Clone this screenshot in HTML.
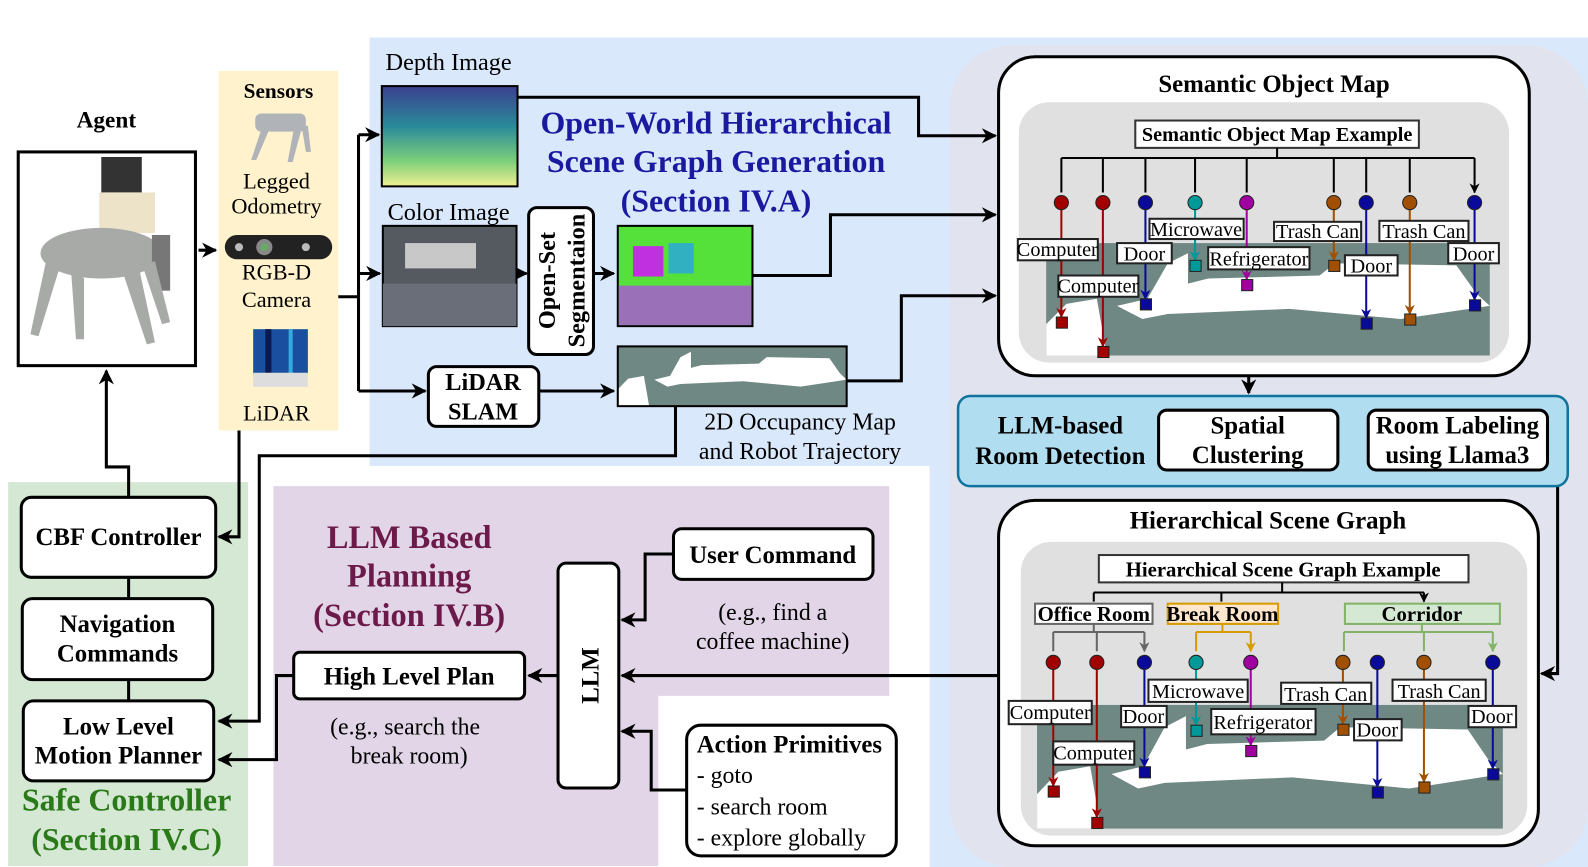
<!DOCTYPE html><html><head><meta charset="utf-8"><style>html,body{margin:0;padding:0;background:#fff}svg{display:block}text{font-family:"Liberation Serif",serif}</style></head><body>
<svg width="1588" height="867" viewBox="0 0 1568 856" preserveAspectRatio="none" xmlns="http://www.w3.org/2000/svg">
<defs>
<marker id="a" viewBox="0 0 10 10" refX="9" refY="5" markerWidth="5" markerHeight="5" orient="auto"><path d="M0,0L10,5L0,10L3,5z" fill="#000"/></marker>
<marker id="ag" viewBox="0 0 10 10" refX="9" refY="5" markerWidth="5" markerHeight="5" orient="auto"><path d="M0,0L10,5L0,10L3,5z" fill="#666"/></marker>
<marker id="ay" viewBox="0 0 10 10" refX="9" refY="5" markerWidth="5" markerHeight="5" orient="auto"><path d="M0,0L10,5L0,10L3,5z" fill="#d79b00"/></marker>
<marker id="agr" viewBox="0 0 10 10" refX="9" refY="5" markerWidth="5" markerHeight="5" orient="auto"><path d="M0,0L10,5L0,10L3,5z" fill="#82b366"/></marker>
<marker id="ar" viewBox="0 0 10 10" refX="9" refY="5" markerWidth="5" markerHeight="5" orient="auto"><path d="M0,0L10,5L0,10L3,5z" fill="#a00000"/></marker>
<marker id="ab" viewBox="0 0 10 10" refX="9" refY="5" markerWidth="5" markerHeight="5" orient="auto"><path d="M0,0L10,5L0,10L3,5z" fill="#0a0a9a"/></marker>
<marker id="at" viewBox="0 0 10 10" refX="9" refY="5" markerWidth="5" markerHeight="5" orient="auto"><path d="M0,0L10,5L0,10L3,5z" fill="#009999"/></marker>
<marker id="am" viewBox="0 0 10 10" refX="9" refY="5" markerWidth="5" markerHeight="5" orient="auto"><path d="M0,0L10,5L0,10L3,5z" fill="#a000a0"/></marker>
<marker id="ao" viewBox="0 0 10 10" refX="9" refY="5" markerWidth="5" markerHeight="5" orient="auto"><path d="M0,0L10,5L0,10L3,5z" fill="#a05000"/></marker>
<linearGradient id="dg" x1="0" y1="0" x2="0" y2="1"><stop offset="0" stop-color="#3b3f8f"/><stop offset="0.4" stop-color="#2a8a9a"/><stop offset="0.75" stop-color="#7dd07a"/><stop offset="1" stop-color="#f0f090"/></linearGradient>
<g id="map1">
<rect x="0" y="0" width="438" height="111" fill="#6f8884"/>
<path d="M70,62 L100,55 L120,20 L140,10 L140,40 L160,35 L270,32 L285,20 L405,22 L425,50 L438,62 L350,75 L240,65 L120,70 L95,75 Z" fill="#fff"/>
<path d="M0,80 L20,60 L50,55 L60,111 L0,111 Z" fill="#fff"/>
</g>
</defs>

<path d="M365,37 H1568 V856 H918 V460 H365 Z" fill="#dae8fc"/>
<rect x="938" y="45" width="630" height="811" rx="60" fill="#e1e3ef"/>
<rect x="216" y="70" width="118" height="355" fill="#fff2cc"/>
<rect x="8" y="476" width="237" height="379" fill="#d5e8d4"/>
<path d="M270,480 H878 V687 H650 V855 H270 Z" fill="#e1d5e7"/>

<text x="105" y="126" font-size="23" font-weight="bold" text-anchor="middle">Agent</text>
<rect x="18" y="150" width="175" height="211" fill="#fff" stroke="#000" stroke-width="3"/>
<g fill="#a8aaa8">
<rect x="100" y="155" width="40" height="35" fill="#333"/>
<rect x="98" y="190" width="55" height="40" fill="#ede3c8"/>
<ellipse cx="100" cy="250" rx="60" ry="25"/>
<rect x="150" y="232" width="18" height="55" fill="#777"/>
<path d="M45,260 l-15,70 l8,2 l20,-65z M70,265 l5,70 l8,0 l0,-60z M120,265 l25,75 l8,-2 l-15,-70z M140,260 l20,60 l8,-2 l-15,-60z"/>
</g>
<text x="275" y="97" font-size="21" font-weight="bold" text-anchor="middle">Sensors</text>
<g fill="#b0b4b8"><rect x="252" y="112" width="50" height="18" rx="6"/><path d="M258,128 l-10,30 h5 l12,-28z M290,128 l-6,32 h5 l8,-30z M298,125 l4,25 h5 l-3,-26z"/></g>
<text x="273" y="186" font-size="22" text-anchor="middle">Legged</text>
<text x="273" y="211" font-size="22" text-anchor="middle">Odometry</text>
<rect x="222" y="232" width="106" height="24" rx="12" fill="#222"/>
<circle cx="261" cy="244" r="8" fill="#888"/><circle cx="261" cy="244" r="4" fill="#6a6"/>
<circle cx="236" cy="244" r="4" fill="#bbb"/><circle cx="302" cy="244" r="4" fill="#bbb"/>
<text x="273" y="276" font-size="22" text-anchor="middle">RGB-D</text>
<text x="273" y="303" font-size="22" text-anchor="middle">Camera</text>
<rect x="250" y="325" width="54" height="45" fill="#1a4fa0"/>
<rect x="262" y="325" width="6" height="45" fill="#0a1a50"/><rect x="285" y="325" width="4" height="45" fill="#3ad"/>
<rect x="250" y="368" width="54" height="14" fill="#ddd"/>
<text x="273" y="415" font-size="22" text-anchor="middle">LiDAR</text>

<g stroke="#000" stroke-width="3" fill="none">
<path d="M196,247 H213" marker-end="url(#a)"/>
<path d="M334,293 H354"/>
<path d="M354,133 V386"/>
<path d="M354,133 H374" marker-end="url(#a)"/>
<path d="M354,270 H375" marker-end="url(#a)"/>
<path d="M354,386 H420" marker-end="url(#a)"/>
<path d="M236,425 V530 H216" marker-end="url(#a)"/>
<path d="M511,96 H907 V134 H983" marker-end="url(#a)"/>
<path d="M510,270 H520" marker-end="url(#a)"/>
<path d="M586,270 H606" marker-end="url(#a)"/>
<path d="M743,272 H820 V212 H983" marker-end="url(#a)"/>
<path d="M532,386 H606" marker-end="url(#a)"/>
<path d="M836,376 H890 V292 H983" marker-end="url(#a)"/>
<path d="M667,401 V450 H256 V712 H216" marker-end="url(#a)"/>
<path d="M127,491 V461 H105 V366" marker-end="url(#a)"/>
<path d="M127,570 V591 M127,671 V692"/>
<path d="M290,667 H273 V750 H216" marker-end="url(#a)"/>
<path d="M551,667 H522" marker-end="url(#a)"/>
<path d="M665,547 H637 V612 H614" marker-end="url(#a)"/>
<path d="M678,780 H643 V722 H614" marker-end="url(#a)"/>
<path d="M986,667 H614" marker-end="url(#a)"/>
<path d="M1233,371 V388" marker-end="url(#a)"/>
<path d="M1321,434 H1351"/>
<path d="M1528,434 H1538 V665 H1522" marker-end="url(#a)"/>
</g>

<text x="443" y="69" font-size="24" text-anchor="middle">Depth Image</text>
<rect x="377" y="85" width="134" height="99" fill="url(#dg)" stroke="#000" stroke-width="2"/>
<text x="443" y="217" font-size="24" text-anchor="middle">Color Image</text>
<rect x="378" y="223" width="132" height="99" fill="#555a60" stroke="#000" stroke-width="2"/>
<rect x="378" y="280" width="132" height="42" fill="#6a6e78"/>
<rect x="400" y="240" width="70" height="25" fill="#c8c8c8"/>
<rect x="522" y="205" width="64" height="145" rx="8" fill="#fff" stroke="#000" stroke-width="3"/>
<text transform="translate(548,277) rotate(-90)" font-size="24" font-weight="bold" text-anchor="middle">Open-Set</text>
<text transform="translate(577,277) rotate(-90)" font-size="24" font-weight="bold" text-anchor="middle">Segmentaion</text>
<rect x="610" y="223" width="133" height="99" fill="#55e03a" stroke="#000" stroke-width="2"/>
<rect x="611" y="282" width="131" height="39" fill="#9a70b8"/>
<rect x="625" y="243" width="30" height="30" fill="#c030e0"/><rect x="660" y="240" width="25" height="30" fill="#30b0c0"/>
<rect x="423" y="362" width="109" height="59" rx="8" fill="#fff" stroke="#000" stroke-width="3"/>
<text x="477" y="385" font-size="24" font-weight="bold" text-anchor="middle">LiDAR</text>
<text x="477" y="414" font-size="24" font-weight="bold" text-anchor="middle">SLAM</text>
<g transform="translate(610,342) scale(0.516,0.53)"><use href="#map1"/></g>
<rect x="610" y="342" width="226" height="59" fill="none" stroke="#000" stroke-width="2"/>
<text x="790" y="424" font-size="23.5" text-anchor="middle">2D Occupancy Map</text>
<text x="790" y="453" font-size="23.5" text-anchor="middle">and Robot Trajectory</text>
<g font-size="31.5" font-weight="bold" fill="#1a1aa0" text-anchor="middle">
<text x="707" y="132">Open-World Hierarchical</text>
<text x="707" y="170">Scene Graph Generation</text>
<text x="707" y="209">(Section IV.A)</text>
</g>

<g stroke="#000" stroke-width="3" fill="#fff">
<rect x="21" y="491" width="192" height="79" rx="10"/>
<rect x="22" y="591" width="188" height="80" rx="10"/>
<rect x="23" y="692" width="188" height="79" rx="10"/>
</g>
<g font-size="24.5" font-weight="bold" text-anchor="middle">
<text x="117" y="538">CBF Controller</text>
<text x="116" y="624">Navigation</text><text x="116" y="653">Commands</text>
<text x="117" y="725">Low Level</text><text x="117" y="754">Motion Planner</text>
</g>
<g font-size="31.5" font-weight="bold" fill="#2a7a1a" text-anchor="middle">
<text x="125" y="800">Safe Controller</text><text x="125" y="839">(Section IV.C)</text>
</g>

<g font-size="32" font-weight="bold" fill="#6b1a4a" text-anchor="middle">
<text x="404" y="541">LLM Based</text><text x="404" y="579">Planning</text><text x="404" y="618">(Section IV.B)</text>
</g>
<g stroke="#000" stroke-width="3" fill="#fff">
<rect x="290" y="644" width="228" height="46" rx="6"/>
<rect x="551" y="556" width="60" height="222" rx="8"/>
<rect x="665" y="522" width="197" height="50" rx="8"/>
<rect x="678" y="716" width="207" height="129" rx="14"/>
</g>
<text x="404" y="676" font-size="24.5" font-weight="bold" text-anchor="middle">High Level Plan</text>
<text x="400" y="725" font-size="23.5" text-anchor="middle">(e.g., search the</text>
<text x="404" y="754" font-size="23.5" text-anchor="middle">break room)</text>
<text transform="translate(591,667) rotate(-90)" font-size="24.5" font-weight="bold" text-anchor="middle">LLM</text>
<text x="763" y="556" font-size="24.5" font-weight="bold" text-anchor="middle">User Command</text>
<text x="763" y="612" font-size="23.5" text-anchor="middle">(e.g., find a</text>
<text x="763" y="641" font-size="23.5" text-anchor="middle">coffee machine)</text>
<text x="688" y="743" font-size="24.5" font-weight="bold">Action Primitives</text>
<text x="688" y="773" font-size="23.5">- goto</text>
<text x="688" y="804" font-size="23.5">- search room</text>
<text x="688" y="835" font-size="23.5">- explore globally</text>

<rect x="986" y="56" width="524" height="315" rx="36" fill="#fff" stroke="#000" stroke-width="3"/>
<text x="1258" y="91" font-size="24.5" font-weight="bold" text-anchor="middle">Semantic Object Map</text>
<rect x="1006" y="101" width="484" height="257" rx="30" fill="#e0e0e0"/>
<g transform="translate(1033,240)"><use href="#map1"/></g>
<rect x="1121" y="119" width="280" height="27" fill="#fff" stroke="#333" stroke-width="2"/>
<text x="1261" y="139" font-size="20" font-weight="bold" text-anchor="middle">Semantic Object Map Example</text>
<g stroke="#000" stroke-width="2" fill="none">
<path d="M1261,146 V156 M1048,156 H1456"/>
<path d="M1048,156V190M1089,156V190M1131,156V190M1180,156V190M1231,156V190M1317,156V190M1349,156V190M1392,156V190M1456,156V190" marker-end="url(#a)"/>
</g>
<g stroke-width="2" fill="none">
<path d="M1048,200V313" stroke="#a00000" marker-end="url(#ar)"/>
<path d="M1089,200V342" stroke="#a00000" marker-end="url(#ar)"/>
<path d="M1131,200V295" stroke="#0a0a9a" marker-end="url(#ab)"/>
<path d="M1180,200V257" stroke="#009999" marker-end="url(#at)"/>
<path d="M1231,200V276" stroke="#a000a0" marker-end="url(#am)"/>
<path d="M1317,200V257" stroke="#a05000" marker-end="url(#ao)"/>
<path d="M1349,200V314" stroke="#0a0a9a" marker-end="url(#ab)"/>
<path d="M1392,200V310" stroke="#a05000" marker-end="url(#ao)"/>
<path d="M1456,200V296" stroke="#0a0a9a" marker-end="url(#ab)"/>
</g>
<g stroke="#222" stroke-width="1">
<circle cx="1048" cy="200" r="7" fill="#a00000"/><rect x="1043" y="313" width="11" height="11" fill="#a00000"/>
<circle cx="1089" cy="200" r="7" fill="#a00000"/><rect x="1084" y="342" width="11" height="11" fill="#a00000"/>
<circle cx="1131" cy="200" r="7" fill="#0a0a9a"/><rect x="1126" y="295" width="11" height="11" fill="#0a0a9a"/>
<circle cx="1180" cy="200" r="7" fill="#009999"/><rect x="1175" y="257" width="11" height="11" fill="#009999"/>
<circle cx="1231" cy="200" r="7" fill="#a000a0"/><rect x="1226" y="276" width="11" height="11" fill="#a000a0"/>
<circle cx="1317" cy="200" r="7" fill="#a05000"/><rect x="1312" y="257" width="11" height="11" fill="#a05000"/>
<circle cx="1349" cy="200" r="7" fill="#0a0a9a"/><rect x="1344" y="314" width="11" height="11" fill="#0a0a9a"/>
<circle cx="1392" cy="200" r="7" fill="#a05000"/><rect x="1387" y="310" width="11" height="11" fill="#a05000"/>
<circle cx="1456" cy="200" r="7" fill="#0a0a9a"/><rect x="1451" y="296" width="11" height="11" fill="#0a0a9a"/>
</g>
<g fill="#fff" stroke="#222" stroke-width="2">
<rect x="1005" y="236" width="79" height="21"/><rect x="1045" y="272" width="79" height="21"/>
<rect x="1103" y="240" width="54" height="20"/><rect x="1135" y="216" width="93" height="20"/>
<rect x="1193" y="244" width="100" height="22"/><rect x="1258" y="219" width="86" height="19"/>
<rect x="1328" y="252" width="52" height="20"/><rect x="1362" y="218" width="88" height="20"/>
<rect x="1430" y="240" width="50" height="20"/>
</g>
<g font-size="20" text-anchor="middle">
<text x="1044" y="253">Computer</text><text x="1084" y="289">Computer</text>
<text x="1130" y="257">Door</text><text x="1181" y="233">Microwave</text>
<text x="1243" y="262">Refrigerator</text><text x="1301" y="235">Trash Can</text>
<text x="1354" y="269">Door</text><text x="1406" y="235">Trash Can</text>
<text x="1455" y="257">Door</text>
</g>

<rect x="946" y="391" width="602" height="89" rx="12" fill="#b1ddf0" stroke="#10739e" stroke-width="2.5"/>
<text x="1047" y="428" font-size="24.5" font-weight="bold" text-anchor="middle">LLM-based</text>
<text x="1047" y="458" font-size="24.5" font-weight="bold" text-anchor="middle">Room Detection</text>
<rect x="1144" y="405" width="177" height="59" rx="8" fill="#fff" stroke="#000" stroke-width="3"/>
<rect x="1351" y="405" width="177" height="59" rx="8" fill="#fff" stroke="#000" stroke-width="3"/>
<text x="1232" y="428" font-size="24.5" font-weight="bold" text-anchor="middle">Spatial</text>
<text x="1232" y="457" font-size="24.5" font-weight="bold" text-anchor="middle">Clustering</text>
<text x="1439" y="428" font-size="24.5" font-weight="bold" text-anchor="middle">Room Labeling</text>
<text x="1439" y="457" font-size="24.5" font-weight="bold" text-anchor="middle">using Llama3</text>

<rect x="986" y="494" width="533" height="341" rx="36" fill="#fff" stroke="#000" stroke-width="3"/>
<text x="1252" y="522" font-size="24.5" font-weight="bold" text-anchor="middle">Hierarchical Scene Graph</text>
<rect x="1008" y="535" width="500" height="290" rx="30" fill="#e0e0e0"/>
<g transform="translate(1024,696) scale(1.05,1.1)"><use href="#map1"/></g>
<rect x="1085" y="548" width="365" height="27" fill="#fff" stroke="#333" stroke-width="2"/>
<text x="1267" y="569" font-size="20.5" font-weight="bold" text-anchor="middle">Hierarchical Scene Graph Example</text>
<g stroke="#000" stroke-width="2" fill="none">
<path d="M1266,575V585 M1080,585H1406"/>
<path d="M1080,585V594M1206,585V594M1406,585V594" marker-end="url(#a)"/>
</g>
<rect x="1022" y="596" width="116" height="20" fill="#fff" stroke="#666" stroke-width="2"/>
<rect x="1153" y="596" width="109" height="20" fill="#ffe6cc" stroke="#d79b00" stroke-width="2"/>
<rect x="1328" y="596" width="153" height="20" fill="#d5e8d4" stroke="#82b366" stroke-width="2"/>
<g font-size="20.5" font-weight="bold" text-anchor="middle">
<text x="1080" y="613">Office Room</text><text x="1207" y="613">Break Room</text><text x="1404" y="613">Corridor</text>
</g>
<g stroke-width="2" fill="none">
<path d="M1080,616V624M1040,624H1130" stroke="#666"/>
<path d="M1040,624V643M1083,624V643M1130,624V643" stroke="#666" marker-end="url(#ag)"/>
<path d="M1207,616V624M1181,624H1235" stroke="#d79b00"/>
<path d="M1181,624V643M1235,624V643" stroke="#d79b00" marker-end="url(#ay)"/>
<path d="M1404,616V624M1327,624H1474" stroke="#82b366"/>
<path d="M1327,624V643M1406,624V643M1474,624V643" stroke="#82b366" marker-end="url(#agr)"/>
<path d="M1040,654V776" stroke="#a00000" marker-end="url(#ar)"/>
<path d="M1083,654V807" stroke="#a00000" marker-end="url(#ar)"/>
<path d="M1130,654V757" stroke="#0a0a9a" marker-end="url(#ab)"/>
<path d="M1181,654V716" stroke="#009999" marker-end="url(#at)"/>
<path d="M1235,654V736" stroke="#a000a0" marker-end="url(#am)"/>
<path d="M1326,654V715" stroke="#a05000" marker-end="url(#ao)"/>
<path d="M1360,654V777" stroke="#0a0a9a" marker-end="url(#ab)"/>
<path d="M1406,654V772" stroke="#a05000" marker-end="url(#ao)"/>
<path d="M1474,654V759" stroke="#0a0a9a" marker-end="url(#ab)"/>
</g>
<g stroke="#222" stroke-width="1">
<circle cx="1040" cy="654" r="7" fill="#a00000"/><rect x="1035" y="776" width="11" height="11" fill="#a00000"/>
<circle cx="1083" cy="654" r="7" fill="#a00000"/><rect x="1078" y="807" width="11" height="11" fill="#a00000"/>
<circle cx="1130" cy="654" r="7" fill="#0a0a9a"/><rect x="1125" y="757" width="11" height="11" fill="#0a0a9a"/>
<circle cx="1181" cy="654" r="7" fill="#009999"/><rect x="1176" y="716" width="11" height="11" fill="#009999"/>
<circle cx="1235" cy="654" r="7" fill="#a000a0"/><rect x="1230" y="736" width="11" height="11" fill="#a000a0"/>
<circle cx="1326" cy="654" r="7" fill="#a05000"/><rect x="1321" y="715" width="11" height="11" fill="#a05000"/>
<circle cx="1360" cy="654" r="7" fill="#0a0a9a"/><rect x="1355" y="777" width="11" height="11" fill="#0a0a9a"/>
<circle cx="1406" cy="654" r="7" fill="#a05000"/><rect x="1401" y="772" width="11" height="11" fill="#a05000"/>
<circle cx="1474" cy="654" r="7" fill="#0a0a9a"/><rect x="1469" y="759" width="11" height="11" fill="#0a0a9a"/>
</g>
<g fill="#fff" stroke="#222" stroke-width="2">
<rect x="996" y="692" width="82" height="23"/><rect x="1040" y="732" width="80" height="23"/>
<rect x="1107" y="697" width="45" height="21"/><rect x="1134" y="671" width="98" height="22"/>
<rect x="1196" y="700" width="103" height="25"/><rect x="1265" y="674" width="89" height="21"/>
<rect x="1337" y="710" width="47" height="21"/><rect x="1375" y="671" width="92" height="21"/>
<rect x="1450" y="697" width="47" height="21"/>
</g>
<g font-size="20" text-anchor="middle">
<text x="1037" y="710">Computer</text><text x="1080" y="750">Computer</text>
<text x="1129" y="714">Door</text><text x="1183" y="689">Microwave</text>
<text x="1247" y="720">Refrigerator</text><text x="1309" y="692">Trash Can</text>
<text x="1360" y="727">Door</text><text x="1421" y="689">Trash Can</text>
<text x="1473" y="714">Door</text>
</g>
</svg>
</body></html>
